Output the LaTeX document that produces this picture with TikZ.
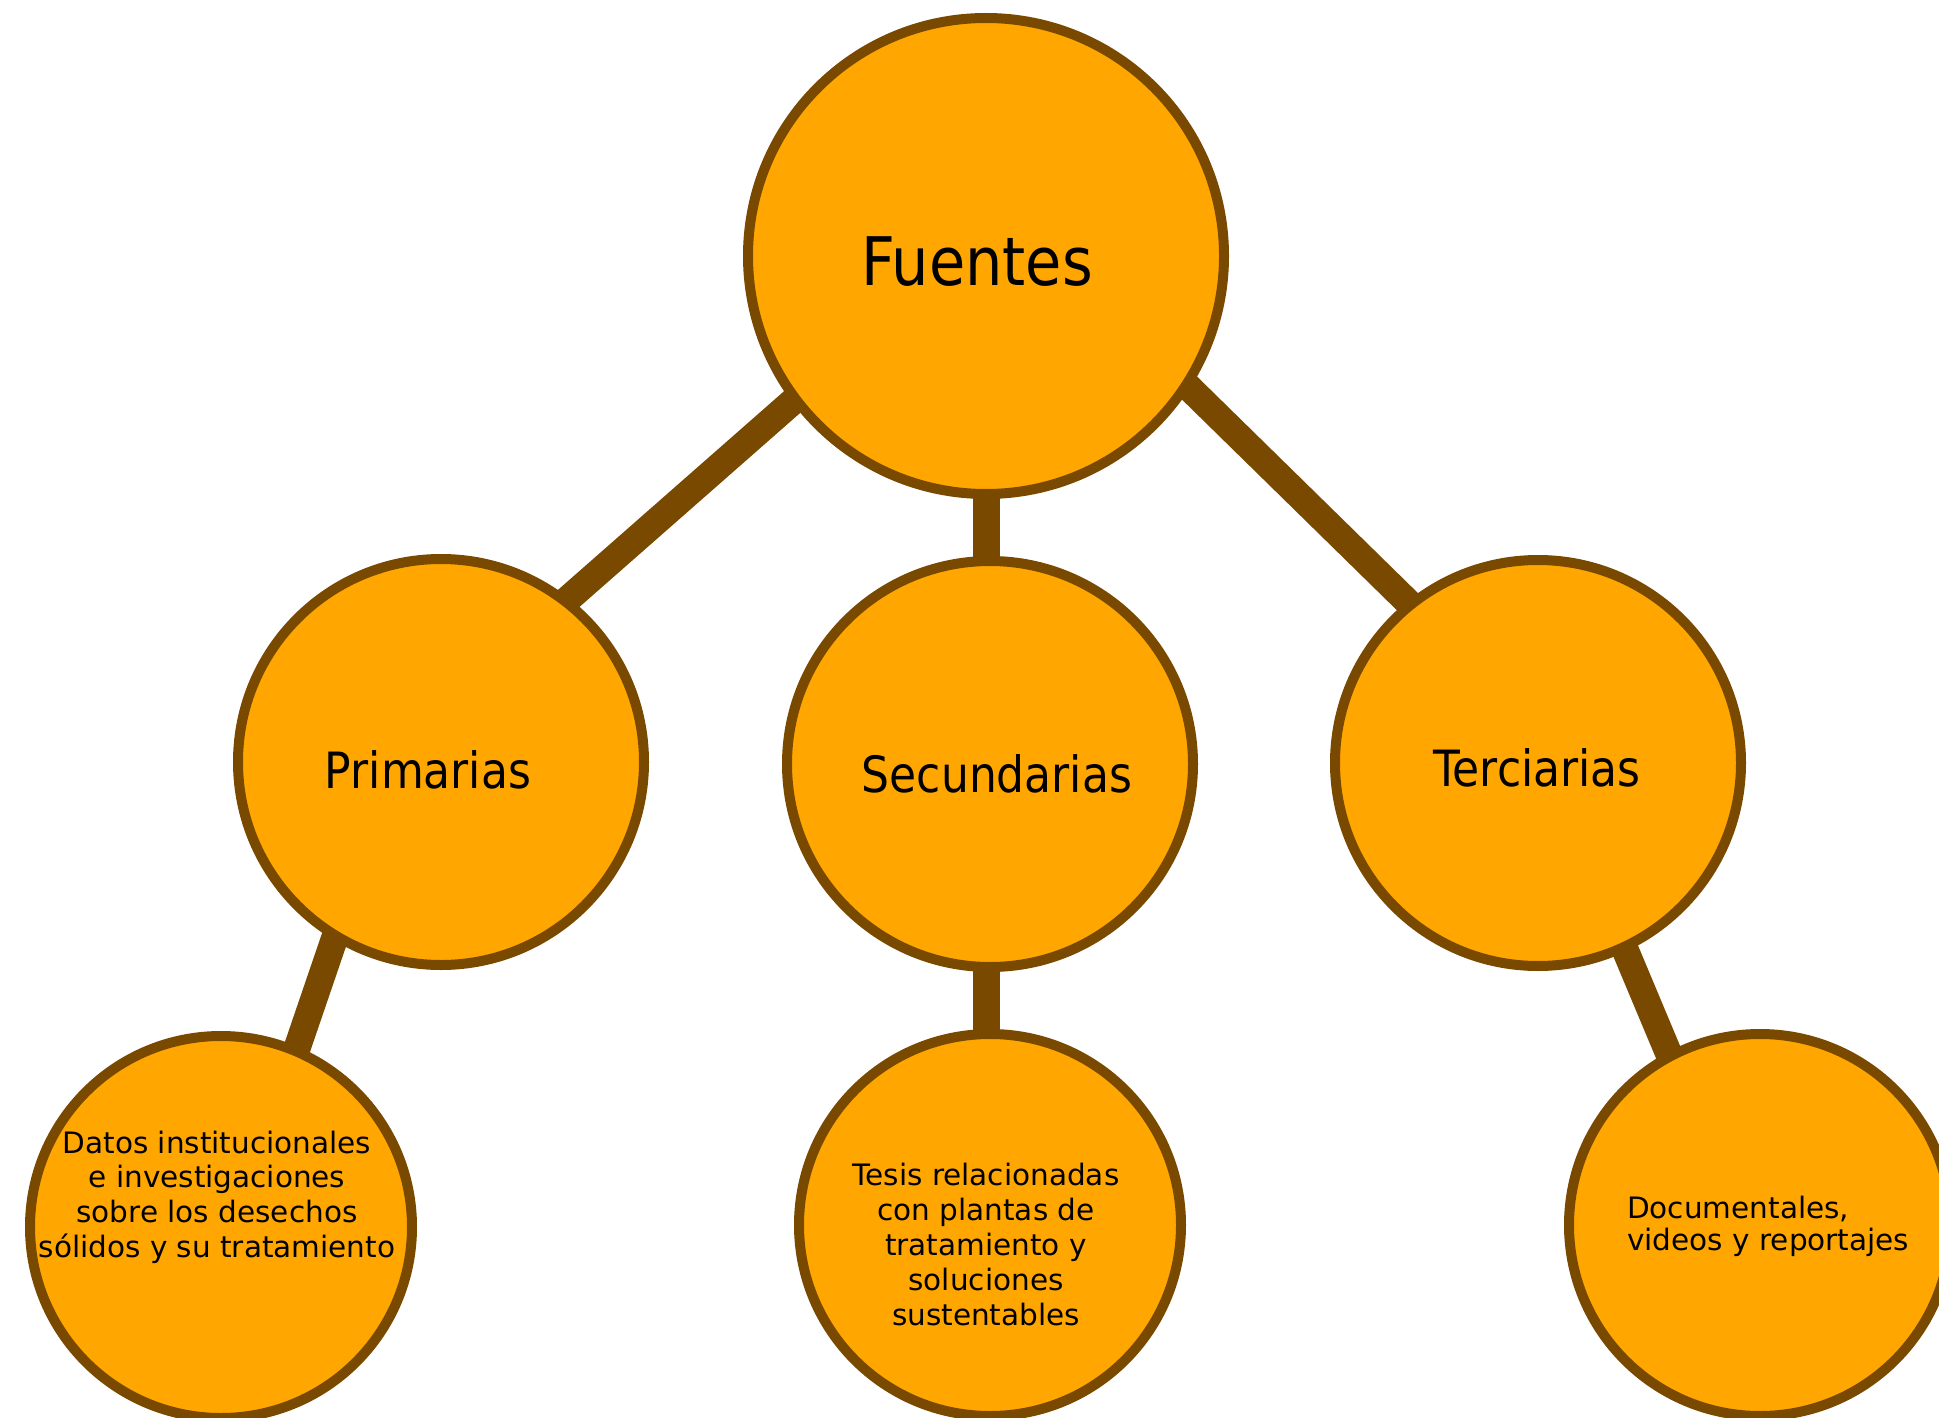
\documentclass[tikz,border=0pt]{standalone}
\usepackage{fontspec}
\setmainfont{DejaVu Sans}
\newfontfamily\headfont[FakeStretch=0.88]{DejaVu Sans}
\usetikzlibrary{backgrounds}
\definecolor{bubble}{RGB}{255,166,0}
\definecolor{rim}{RGB}{122,73,0}
\begin{document}
\begin{tikzpicture}[x=1pt,y=-1pt,
  bub/.style={circle,draw=rim,fill=bubble,line width=10pt,inner sep=0pt},
  big/.style={bub,minimum size=476pt},
  mid/.style={bub,minimum size=406pt},
  low/.style={bub,minimum size=382pt},
  link/.style={draw=rim,line width=27pt,shorten <=-25pt,shorten >=-25pt},
  head/.style={inner sep=0pt,anchor=base,text=black},
  small/.style={inner sep=0pt,text=black}]
\useasboundingbox (0,0) rectangle (1939,1418);
\node[big] (F) at (986,256) {};
\node[mid] (P) at (441,762) {};
\node[mid] (S) at (990,764) {};
\node[mid] (T) at (1538,763) {};
\node[low] (BL) at (221,1227) {};
\node[low] (BM) at (990,1225) {};
\node[low] (BR) at (1760,1225) {};
\begin{scope}[on background layer]
\fill[white] (0,0) rectangle (1939,1418);
\draw[link] (F.217) -- (P.52.5);
\draw[link] (F.south) -- (F.south |- S.north);
\draw[link] (F.327) -- (T.129);
\draw[link] (P.239) -- (BL.67);
\draw[link] (S.south -| F.south) -- (BM.north -| F.south);
\draw[link] (T.295) -- (BR.118);
\end{scope}
\node[head,font=\headfont\fontsize{67}{80}\selectfont] (tF) at (977,285) {Fuentes};
\node[head,font=\headfont\fontsize{50}{60}\selectfont] (tP) at (428,788) {Primarias};
\node[head,font=\headfont\fontsize{50}{60}\selectfont] (tS) at (997,792) {Secundarias};
\node[head,font=\headfont\fontsize{50}{60}\selectfont] (tT) at (1537,786) {Terciarias};
\node[small,align=center,font=\fontsize{29.5}{34.7}\selectfont] (tBL) at (217,1197) {Datos institucionales\\e investigaciones\\sobre los desechos\\sólidos y su tratamiento};
\node[small,align=center,font=\fontsize{29.5}{35}\selectfont] (tBM) at (986,1244) {Tesis relacionadas\\con plantas de\\tratamiento y\\soluciones\\sustentables};
\node[small,align=left,anchor=west,font=\fontsize{29.5}{31.7}\selectfont] (tBR) at (1627,1226) {Documentales,\\videos y reportajes};
\end{tikzpicture}
\end{document}
